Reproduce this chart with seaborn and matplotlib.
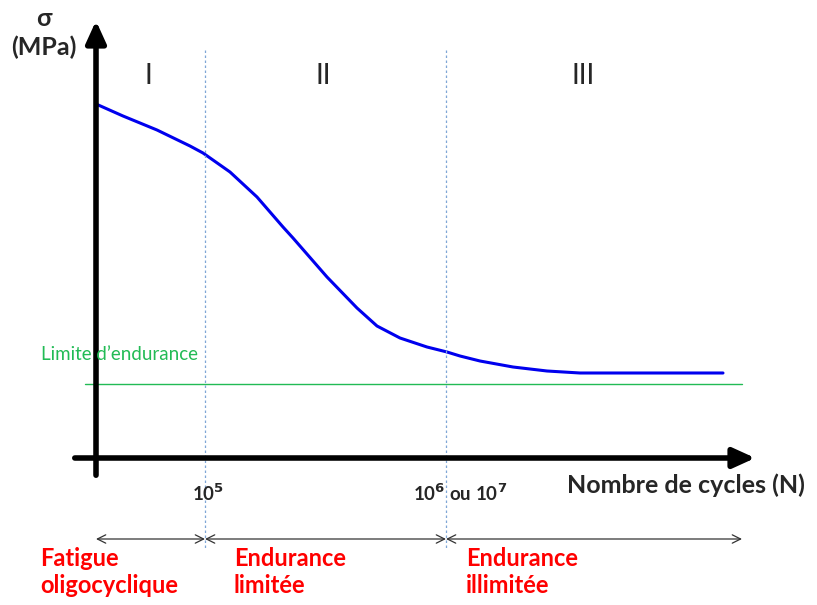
import numpy as np
import pandas as pd
import matplotlib
matplotlib.use("Agg")
import matplotlib.pyplot as plt
import seaborn as sns

# schematic S-N (Wöhler) curve, coordinates in drawing units (x right, y down)
curve_x = [96, 123, 157, 190, 203, 230, 257, 283, 293, 327, 357, 377, 400, 427, 447, 460, 480, 513, 547, 580, 630, 680, 723]
curve_y = [104, 116, 130, 146, 153, 172, 197, 227, 238, 277, 308, 326, 338, 347, 352, 356, 361, 367, 371, 373, 373, 373, 373]

region_x = [205, 446]
region_labels = ["I", "II", "III"]
region_label_x = [148, 323, 583]
endurance_limit_y = 384

domain_labels = ["Fatigue\noligocyclique", "Endurance\nlimitée", "Endurance\nillimitée"]
domain_x = [40, 234, 466]
domain_bounds = [96, 205, 446, 742]


def main():
    sns.set_theme(style="white")
    plt.rcParams["font.family"] = ["Lato", "DejaVu Sans"]

    fig = plt.figure(figsize=(8.17, 6.05), dpi=100)
    ax = fig.add_axes([0, 0, 1, 1])
    ax.set_xlim(0, 817)
    ax.set_ylim(605, 0)
    ax.axis("off")

    df = pd.DataFrame({"N": curve_x, "sigma": curve_y})
    sns.lineplot(data=df, x="N", y="sigma", ax=ax, color="#0000ee", lw=2.2)

    # axes arrows
    ax.annotate("", xy=(96, 18), xytext=(96, 478),
                arrowprops=dict(arrowstyle="-|>,head_length=1.1,head_width=0.5", lw=4, color="black"))
    ax.annotate("", xy=(758, 458), xytext=(72, 458),
                arrowprops=dict(arrowstyle="-|>,head_length=1.1,head_width=0.5", lw=4, color="black"))

    # region separators
    for x in region_x:
        ax.plot([x, x], [50, 548], ls=(0, (2, 2)), lw=0.9, color="#7fa6d6")
    for lab, x in zip(region_labels, region_label_x):
        ax.text(x, 76, lab, ha="center", va="center", fontsize=20)

    # endurance limit
    ax.plot([85, 742], [endurance_limit_y, endurance_limit_y], color="#22bb55", lw=1)
    ax.text(41, 355, "Limite d\u2019endurance", color="#22bb55", fontsize=13.5,
            ha="left", va="center")

    ax.text(44, 19, "σ", fontsize=18, fontweight="bold", ha="center", va="center")
    ax.text(44, 47, "(MPa)", fontsize=18, fontweight="bold", ha="center", va="center")

    ax.text(192, 493, r"10$^{\mathbf{5}}$", fontsize=13.5, fontweight="bold", ha="left", va="center")
    ax.text(413, 493, r"10$^{\mathbf{6}}$ ou 10$^{\mathbf{7}}$", fontsize=13.5, fontweight="bold",
            ha="left", va="center")
    ax.text(567, 485, "Nombre de cycles (N)", fontsize=18, fontweight="bold",
            ha="left", va="center")

    # domains
    for a, b in zip(domain_bounds[:-1], domain_bounds[1:]):
        ax.annotate("", xy=(b, 539), xytext=(a, 539),
                    arrowprops=dict(arrowstyle="<->,head_length=0.5,head_width=0.25", lw=0.9,
                                    color="#333333", shrinkA=0, shrinkB=0))
    for lab, x in zip(domain_labels, domain_x):
        ax.text(x, 572, lab, color="red", fontsize=17, fontweight="bold",
                ha="left", va="center", linespacing=1.25)

    fig.savefig("out.png", dpi=100)
    plt.close(fig)


if __name__ == "__main__":
    main()
